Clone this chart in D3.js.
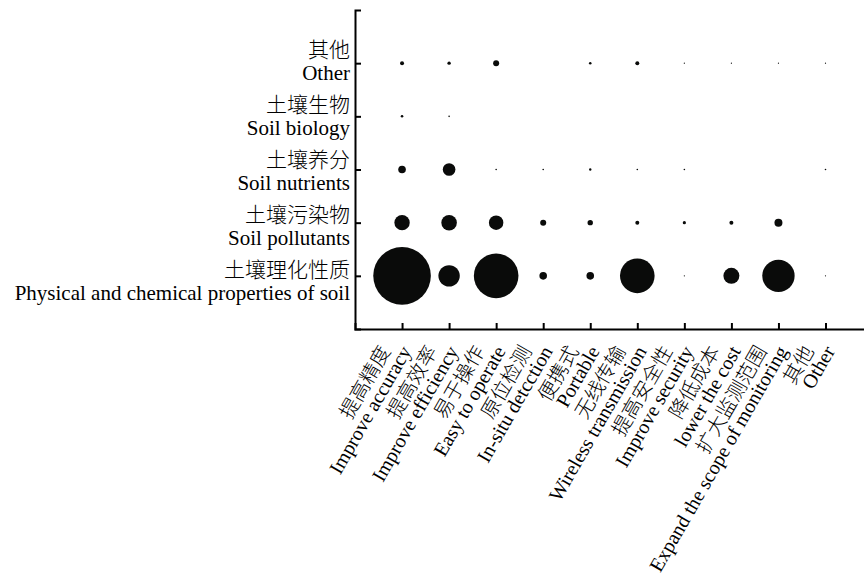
<!DOCTYPE html>
<html><head><meta charset="utf-8">
<script src="https://cdn.jsdelivr.net/npm/d3@7"></script>
<style>
html,body{margin:0;padding:0;background:#fff;}
svg{display:block;}
.en{font-family:"Liberation Serif","Times New Roman",serif;}
.zh{font-family:"Noto Sans CJK SC","Noto Sans CJK JP",sans-serif;font-weight:300;}
</style></head>
<body>
<svg id="chart" width="864" height="585"></svg>
<script>
// ---- data ----
const yLabelsZh = ["土壤理化性质","土壤污染物","土壤养分","土壤生物","其他"];
const yLabelsEn = ["Physical and chemical properties of soil","Soil pollutants","Soil nutrients","Soil biology","Other"];
const xLabelsZh = ["提高精度","提高效率","易于操作","原位检测","便携式","无线传输","提高安全性","降低成本","扩大监测范围","其他"];
const xLabelsEn = ["Improve accuracy","Improve efficiency","Easy to operate","In-situ detcction","Portable","Wireless transmission","Improve security","lower the cost","Expand the scope of monitoring","Other"];
// relative bubble size (area-proportional), one array per soil property
const physical   = [100, 13.8, 60, 1.74, 1.74, 36.1, 0.04, 7.7, 31.6, 0.04];
const pollutants = [7.1, 7.3, 6.3, 1.1, 0.88, 0.48, 0.31, 0.48, 1.93, 0];
const nutrients  = [1.74, 4.8, 0.08, 0.08, 0.17, 0.08, 0.08, 0, 0, 0.08];
const biology    = [0.2, 0.08, 0, 0, 0, 0, 0, 0, 0, 0];
const others     = [0.48, 0.35, 1.09, 0, 0.2, 0.48, 0.04, 0.04, 0.04, 0.04];
const series = [physical, pollutants, nutrients, biology, others];

// ---- layout ----
const svg = d3.select("#chart");
const x0 = 355, xStep = 47.05, yBottom = 329, yTop = 10;
const x = d3.scaleLinear().domain([0, 11]).range([x0, x0 + 11 * xStep]);
const y = d3.scaleLinear().domain([0, 6]).range([yBottom, yTop]);
const labelY = d3.scaleLinear().domain([1, 5]).range([300, 79.5]); // English line baselines
const r = d3.scaleSqrt().domain([0, 100]).range([0, 28.8]);

const cells = [];
series.forEach((vals, i) => vals.forEach((v, j) => { if (v > 0) cells.push({row: i + 1, col: j + 1, v}); }));

// bubbles
svg.append("g").selectAll("circle").data(cells).join("circle")
  .attr("cx", d => x(d.col)).attr("cy", d => y(d.row))
  .attr("r", d => Math.max(0.6, r(d.v)))
  .attr("fill", "#0a0b0a");

// axes
const yAxis = d3.axisRight(y).tickValues(d3.range(1, 6)).tickSize(6).tickSizeOuter(6).tickFormat("");
const gy = svg.append("g").attr("transform", `translate(${x0},0)`).call(yAxis);
const xAxis = d3.axisTop(x).tickValues(d3.range(1, 11)).tickSize(6).tickSizeOuter(6).tickFormat("");
const gx = svg.append("g").attr("transform", `translate(0,${yBottom})`).call(xAxis);
[gy, gx].forEach(g => {
  g.selectAll("path,line").attr("stroke", "#000").attr("stroke-width", 2);
});

// y labels
const yl = svg.append("g");
yLabelsZh.forEach((t, i) => {
  yl.append("text").attr("class", "zh").attr("x", 350).attr("y", labelY(i + 1) - 23)
    .attr("text-anchor", "end").attr("font-size", 21).attr("fill", "#000").text(t);
  yl.append("text").attr("class", "en").attr("x", 350).attr("y", labelY(i + 1))
    .attr("text-anchor", "end").attr("font-size", 21).attr("fill", "#000").text(yLabelsEn[i]);
});

// x labels
const ang = -60;
const xl = svg.append("g");
xLabelsZh.forEach((t, j) => {
  const tx = x(j + 1);
  xl.append("text").attr("class", "zh").attr("text-anchor", "end").attr("font-size", 20)
    .attr("transform", `translate(${tx - 11},${yBottom + 22}) rotate(${ang})`).attr("fill", "#000").text(t);
  xl.append("text").attr("class", "en").attr("text-anchor", "end").attr("font-size", 20)
    .attr("transform", `translate(${tx + 10},${yBottom + 22}) rotate(${ang})`).attr("fill", "#000").text(xLabelsEn[j]);
});
</script>
</body></html>
